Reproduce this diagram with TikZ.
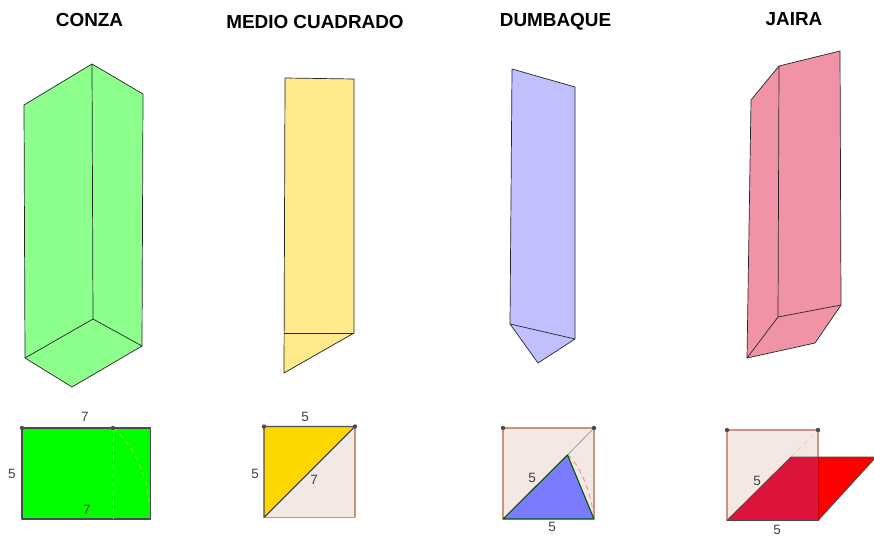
\documentclass[tikz,border=0pt]{standalone}
\usepackage{fontspec}
\setmainfont{Liberation Sans}
\begin{document}
\begin{tikzpicture}[x=1pt,y=-1pt,
  ttl/.style={font=\fontsize{18.9}{21}\selectfont\bfseries,inner sep=0pt},
  lbl/.style={font=\fontsize{13.5}{15}\selectfont,text=black!75,inner sep=0pt},
  edge3d/.style={draw=black!85,line width=0.7pt,line join=round},
  pt/.style={circle,fill=black!70,inner sep=0pt,minimum size=4.4pt},
  sqline/.style={draw=sqedge,line width=1.1pt,line join=round},
  flat/.style={draw=black!70,line width=1.1pt,line join=round},
  dsh/.style={line width=0.8pt,dash pattern=on 5pt off 4pt},
]
\definecolor{sqfill}{HTML}{F4E8E4}
\definecolor{sqedge}{HTML}{CC9480}
\definecolor{pgreen}{HTML}{8CFF8C}
\definecolor{pyellow}{HTML}{FFE98A}
\definecolor{pblue}{HTML}{C0C0FF}
\definecolor{ppink}{HTML}{F193A6}
\definecolor{fyellow}{HTML}{FFD700}
\definecolor{fblue}{HTML}{7B7BFF}
\definecolor{fcrim}{HTML}{DC143C}
\definecolor{dashyellow}{HTML}{F0D88C}
\definecolor{dashred}{HTML}{F08A80}
\definecolor{dashgreen}{HTML}{B8E020}
\useasboundingbox (0,0) rectangle (874,537);
\fill[white] (0,0) rectangle (874,537);
% titles
\node[ttl] (t1) at (89.5,20) {CONZA};
\node[ttl] (t2) at (315,22) {MEDIO CUADRADO};
\node[ttl] (t3) at (555.5,22) {DUMBAQUE};
\node[ttl] (t4) at (794,19) {JAIRA};
% CONZA prism
\fill[pgreen] (24,105) -- (92,64) -- (143,94) -- (142,346) -- (72,387) -- (25,358) -- cycle;
\draw[edge3d] (24,105) -- (92,64) -- (143,94) -- (142,346) -- (72,387) -- (25,358) -- cycle;
\draw[edge3d] (92,64) -- (93,319) (25,358) -- (93,319) -- (142,346);
% MEDIO CUADRADO prism
\fill[pyellow] (285,78) -- (354,79) -- (354,333) -- (284,373) -- cycle;
\draw[edge3d] (285,78) -- (354,79) -- (354,333) -- (284,373) -- cycle;
\draw[edge3d] (284,333) -- (354,333);
% DUMBAQUE prism
\fill[pblue] (512,69) -- (575,87) -- (575,339) -- (538,363) -- (510,324) -- cycle;
\draw[edge3d] (512,69) -- (575,87) -- (575,339) -- (538,363) -- (510,324) -- cycle;
\draw[edge3d] (510,324) -- (575,339);
% JAIRA prism
\fill[ppink] (751,100) -- (779,66) -- (840,51) -- (841,305) -- (815,343) -- (747,358) -- cycle;
\draw[edge3d] (751,100) -- (779,66) -- (840,51) -- (841,305) -- (815,343) -- (747,358) -- cycle;
\draw[edge3d] (779,66) -- (778,317) (747,358) -- (778,317) -- (841,305);
% flat CONZA
\coordinate (a1) at (22,428);
\coordinate (a2) at (150.5,428);
\coordinate (a3) at (150.5,519);
\coordinate (a4) at (22,519);
\coordinate (a5) at (113,428);
\coordinate (a6) at (113,519);
\fill[green] (a1) -- (a2) -- (a3) -- (a4) -- cycle;
\draw[flat] (a1) -- (a2) -- (a3) -- (a4) -- cycle;
\draw[dashgreen,dsh] (a5) -- (a6);
\draw[dashgreen,dsh] (a5) .. controls (131,442) and (147,473) .. (149,502);
\node[pt] (a1p) at (a1) {};
\node[pt] (a5p) at (a5) {};
\node[lbl] (a7) at (85,416.5) {7};
\node[lbl] (a8) at (87,510) {7};
\node[lbl] (a9) at (12,474) {5};
% flat MEDIO
\coordinate (b1) at (264,426.5);
\coordinate (b2) at (355,426.5);
\coordinate (b3) at (355,517.5);
\coordinate (b4) at (264,517.5);
\fill[sqfill] (b1) -- (b2) -- (b3) -- (b4) -- cycle;
\draw[sqline] (b2) -- (b3) -- (b4);
\fill[fyellow] (b1) -- (b2) -- (b4) -- cycle;
\draw[flat] (b4) -- (b1) -- (b2) -- cycle;
\node[pt] (b1p) at (b1) {};
\node[pt] (b2p) at (b2) {};
\node[lbl] (b5) at (305,417) {5};
\node[lbl] (b6) at (255,473.5) {5};
\node[lbl] (b7) at (314,480) {7};
% flat DUMBAQUE
\coordinate (c1) at (503,428);
\coordinate (c2) at (594,428);
\coordinate (c3) at (594,519);
\coordinate (c4) at (503,519);
\coordinate (c5) at (567.5,455);
\fill[sqfill] (c1) -- (c2) -- (c3) -- (c4) -- cycle;
\draw[sqline] (c4) -- (c1) -- (c2) -- (c3);
\draw[black!40,line width=0.8pt] (c5) -- (c2);
\draw[dashred,dsh] (c5) .. controls (579,464) and (591,490) .. (c3);
\fill[fblue] (c4) -- (c3) -- (c5) -- cycle;
\draw[green!35!black,line width=1.1pt,line join=round] (c4) -- (c3) -- (c5) -- cycle;
\node[pt] (c1p) at (c1) {};
\node[pt] (c2p) at (c2) {};
\node[lbl] (c6) at (532,478) {5};
\node[lbl] (c7) at (552,527) {5};
% flat JAIRA
\coordinate (d1) at (727,430);
\coordinate (d2) at (818,430);
\coordinate (d3) at (818,520.5);
\coordinate (d4) at (727,520.5);
\coordinate (d5) at (791,457);
\coordinate (d6) at (876,457);
\fill[sqfill] (d1) -- (d2) -- (d3) -- (d4) -- cycle;
\draw[sqline] (d4) -- (d1) -- (d2) -- (d3);
\draw[dashyellow,dsh] (d5) -- (d2);
\fill[red] (d5) -- (d6) -- (d3) -- (d4) -- cycle;
\fill[fcrim] (d5) -- (d2 |- d5) -- (d3) -- (d4) -- cycle;
\draw[black!70,line width=0.9pt] (d4) -- (d5) -- (d6);
\draw[black!70,line width=0.9pt] (d4) -- (d3) -- (d6);
\draw[red!60!black,line width=0.7pt,opacity=.6] (d2 |- d5) -- (d3);
\node[pt] (d1p) at (d1) {};
\node[pt] (d2p) at (d2) {};
\node[lbl] (d7) at (757,481) {5};
\node[lbl] (d8) at (777,530) {5};
\end{tikzpicture}
\end{document}
